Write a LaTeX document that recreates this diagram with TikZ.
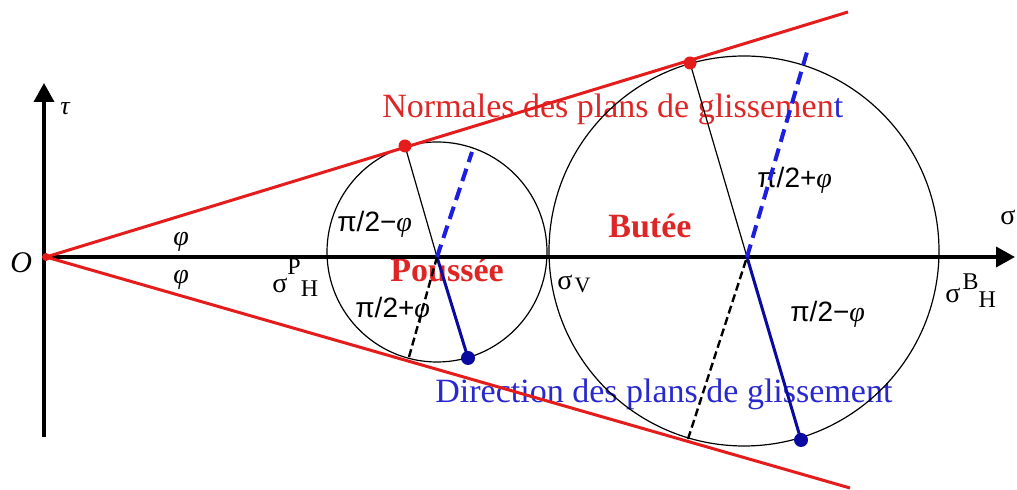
\documentclass[tikz,border=0pt]{standalone}
\usepackage{fontspec}
\setmainfont{Liberation Serif}
\newfontfamily\symfont{Liberation Sans}
\usetikzlibrary{arrows.meta}
\definecolor{envred}{RGB}{228,28,28}
\definecolor{txtred}{RGB}{222,38,38}
\definecolor{dashblue}{RGB}{30,30,225}
\definecolor{navyc}{RGB}{10,10,160}
\definecolor{txtblue}{RGB}{40,40,205}
\newcommand{\vphi}{{\rmfamily\itshape φ}}
\begin{document}
\begin{tikzpicture}[x=0.5pt,y=-0.5pt,
  axis/.style={line width=1.8pt,-{Triangle[length=9.5pt,width=10pt]}},
  envelope/.style={envred,line width=1.5pt},
  mohr/.style={line width=0.6pt},
  normalline/.style={line width=0.6pt},
  slipline/.style={navyc,line width=1.5pt},
  slipdash/.style={dashblue,line width=2pt,dash pattern=on 6.5pt off 3.5pt},
  blackdash/.style={line width=1.2pt,dash pattern=on 4pt off 2pt},
  reddot/.style={circle,fill=envred,inner sep=0pt,minimum size=6.5pt},
  bluedot/.style={circle,fill=navyc,inner sep=0pt,minimum size=7pt},
  txt/.style={inner sep=0pt,anchor=base west},
  angletxt/.style={txt,font=\symfont\fontsize{14}{16}\selectfont},
  phitxt/.style={txt,font=\fontsize{14}{16}\selectfont\itshape},
  bigtxt/.style={txt,font=\fontsize{17}{20}\selectfont},
  zonetxt/.style={txt,font=\fontsize{17}{20}\selectfont\bfseries,text=txtred},
  sigtxt/.style={txt,font=\fontsize{14}{16}\selectfont},
]
\useasboundingbox (0,0) rectangle (1017,490);

% key points
\coordinate (O) at (46,257);
\coordinate (Ax) at (44,257);
\coordinate (Xtip) at (1015,257);
\coordinate (Ybot) at (44,437);
\coordinate (Ytip) at (44,83);
\coordinate (Eu) at (848,12);
\coordinate (El) at (850,488);
% Poussee circle
\coordinate (C1) at (437,252);
\coordinate (X1) at (437,257);
\coordinate (T1) at (405,146);
\coordinate (B1) at (468,358);
\coordinate (L1) at (409,357);
\coordinate (U1) at (472,152);
% Butee circle
\coordinate (C2) at (744,251);
\coordinate (X2) at (747,257);
\coordinate (T2) at (690,63);
\coordinate (B2) at (801,440);
\coordinate (L2) at (688,439);
\coordinate (U2) at (807,52);

% texts
\node[bigtxt,text=txtred] (normales) at (382,118) {Normales des plans de glissemen\textcolor{txtblue}{t}};
\node[bigtxt,text=txtblue] (direction) at (435,403) {Direction des plans de glissement};
\node[zonetxt] (poussee) at (390,282) {Poussée};
\node[zonetxt] (butee) at (608,238) {Butée};
\node[txt,font=\fontsize{13}{15}\selectfont\itshape] (tau) at (60,115) {τ};
\node[txt,font=\fontsize{15}{18}\selectfont\itshape] (olab) at (10,273) {O};
\node[phitxt] (phiu) at (173,246) {φ};
\node[phitxt] (phil) at (173,284) {φ};
\node[sigtxt] (sph) at (272,293) {σ\raisebox{9pt}{\fontsize{12}{14}\selectfont P}\raisebox{-2pt}{\fontsize{12}{14}\selectfont H}};
\node[sigtxt] (sv) at (557,290) {σ\raisebox{-1.5pt}{\fontsize{11}{13}\selectfont\kern1pt V}};
\node[sigtxt] (sbh) at (945,303) {σ\raisebox{6.5pt}{\fontsize{12}{14}\selectfont\kern1pt B}\raisebox{-2.5pt}{\fontsize{12}{14}\selectfont H}};
\node[txt,font=\fontsize{14}{16}\selectfont] (sig) at (1000,225) {σ};
\node[angletxt] (a1) at (337,232) {π/2−\vphi};
\node[angletxt] (a2) at (355,318) {π/2+\vphi};
\node[angletxt] (a3) at (757,188) {π/2+\vphi};
\node[angletxt] (a4) at (790,322) {π/2−\vphi};

% circles
\draw[mohr] (C1) circle[radius=110];
\draw[mohr] (C2) circle[radius=195];

% axes
\draw[axis] (Ax) -- (Xtip);
\draw[axis] (Ybot) -- (Ytip);

% envelopes
\draw[envelope] (O) -- (Eu);
\draw[envelope] (O) -- (El);

% Poussee
\draw[normalline] (T1) -- (X1);
\draw[slipline] (X1) -- (B1);
\draw[blackdash] (L1) -- (X1);
\draw[slipdash] (X1) -- (U1);
% Butee
\draw[normalline] (T2) -- (X2);
\draw[slipline] (X2) -- (B2);
\draw[blackdash] (L2) -- (X2);
\draw[slipdash] (X2) -- (U2);

% dots
\node[reddot] (d1) at (T1) {};
\node[reddot] (d2) at (T2) {};
\node[bluedot] (d3) at (B1) {};
\node[bluedot] (d4) at (B2) {};
\node[circle,fill=envred,inner sep=0pt,minimum size=4pt] (d0) at (O) {};
\end{tikzpicture}
\end{document}
